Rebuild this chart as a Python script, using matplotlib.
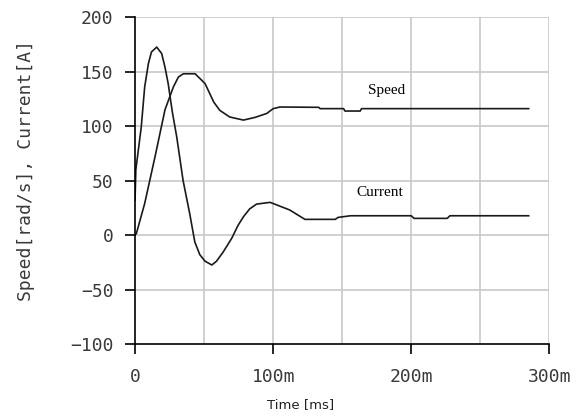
import matplotlib.pyplot as plt
import numpy as np

# time in ms
speed_t = [0, 1, 7, 14.5, 21.7, 27.8, 31.4, 35, 43.5, 50.7, 57, 61.4, 68.6, 78.5, 87, 95.4, 100, 105,
           133, 134, 151, 152, 163, 164, 285]
speed_v = [0, 1.5, 29, 72, 115, 136, 145, 148, 148, 139, 122, 114.4, 108.3, 105.5, 108, 111.6, 116, 117.5,
           117.2, 116, 116, 113.8, 113.8, 116, 116]

current_t = [0, 0.6, 4.5, 7, 9.7, 11.9, 15.7, 19.3, 21.7, 24, 27, 30.2, 34.8, 39.6, 43.3, 46.9,
             50.7, 55.6, 59, 63.8, 70, 74.6, 78.5, 83, 88, 97.8, 112, 123, 145, 147, 156, 200, 202,
             226, 228, 285]
current_v = [32, 60, 99, 136, 157.5, 168, 172.5, 166.5, 154, 139, 113, 90, 50, 19.6, -6.4, -18,
             -24, -27.5, -24, -15.6, -3, 8.9, 16.8, 24, 28.4, 30, 23, 14.4, 14.4, 16.2, 17.7, 17.7, 15.3,
             15.3, 17.7, 17.7]

xticks = [0, 100, 200, 300]
xtick_labels = ['0', '100m', '200m', '300m']
yticks = [-100, -50, 0, 50, 100, 150, 200]

fig = plt.figure(figsize=(5.82, 4.17), dpi=100)
ax = fig.add_axes([0.232, 0.175, 0.712, 0.784])

ax.plot(speed_t, speed_v, color='#1a1a1a', linewidth=1.2)
ax.plot(current_t, current_v, color='#1a1a1a', linewidth=1.2)

ax.set_xlim(0, 300)
ax.set_ylim(-100, 200)

# gray grid every 50
for gx in np.arange(50, 301, 50):
    ax.axvline(gx, color='#c8c8c8', linewidth=1.2, zorder=0)
for gy in np.arange(-50, 201, 50):
    ax.axhline(gy, color='#c8c8c8', linewidth=1.2, zorder=0)

for s in ['top', 'right']:
    ax.spines[s].set_visible(False)
ax.spines['left'].set_linewidth(1.2)
ax.spines['bottom'].set_linewidth(1.2)

mono = 'DejaVu Sans Mono'
ax.set_xticks(xticks, xtick_labels, fontfamily=mono, fontsize=13, color='#3a3a3a')
ax.set_yticks(yticks, [str(v).replace('-', '\u2212') for v in yticks],
              fontfamily=mono, fontsize=13, color='#3a3a3a')
ax.tick_params(axis='x', direction='out', length=7.5, width=1.2, pad=10)
ax.tick_params(axis='y', direction='out', length=7.5, width=1.2, pad=8)

ax.set_ylabel('Speed[rad/s], Current[A]', fontfamily=mono, fontsize=13, color='#3a3a3a')
ax.yaxis.set_label_coords(-0.242, 0.53)
ax.set_xlabel('Time [ms]', fontsize=9.5, color='#222222')
ax.xaxis.set_label_coords(0.4, -0.166)

ax.text(169, 133, 'Speed', fontfamily='Liberation Serif', fontsize=11, ha='left', va='center')
ax.text(160, 39, 'Current', fontfamily='Liberation Serif', fontsize=11, ha='left', va='center')

plt.savefig('out.png', dpi=100)
